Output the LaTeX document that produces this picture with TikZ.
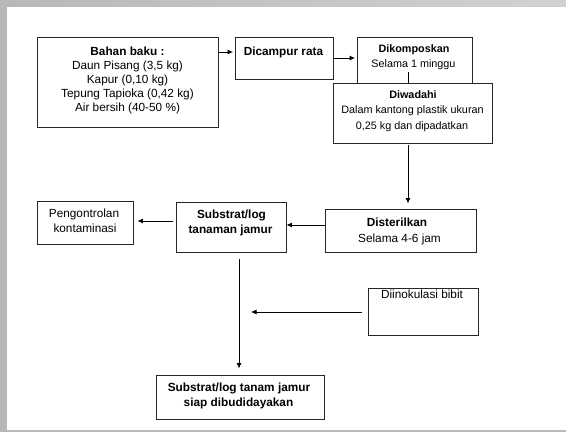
\documentclass[tikz,border=0pt]{standalone}
\usepackage{fontspec}
\setmainfont{Liberation Sans}
\usetikzlibrary{arrows.meta}
\begin{document}
\begin{tikzpicture}[x=1pt,y=-1pt,
 box/.style={draw=black!85, line width=0.9pt, fill=white, inner sep=0pt},
 txt/.style={font=\fontsize{11.8}{14}\selectfont, inner sep=0pt, anchor=base},
 smalltxt/.style={font=\fontsize{10.8}{13}\selectfont, inner sep=0pt, anchor=base},
 arr/.style={draw=black, line width=0.8pt, -{Latex[length=5.5pt,width=5pt]}},
 ln/.style={draw=black, line width=0.8pt}]
\useasboundingbox (0,0) rectangle (566,432);
% frame
\fill[black!28] (0,0) rectangle (566,432);
\shade[left color=black!28, right color=black!18] (0,0) rectangle (566,7);
\fill[white] (7,7) rectangle (566,430);

% boxes
\node[box, minimum width=181pt, minimum height=90pt] (bahan) at (127.5,82) {};
\node[box, minimum width=98pt, minimum height=42pt] (dicampur) at (284,58) {};
\node[box, minimum width=115pt, minimum height=50pt] (dikom) at (414.5,62) {};
\node[box, minimum width=159pt, minimum height=60pt] (diwadahi) at (412.5,113) {};
\node[box, minimum width=151pt, minimum height=43pt] (disterilkan) at (400.5,230.5) {};
\node[box, minimum width=110pt, minimum height=50pt] (substrat) at (231,227) {};
\node[box, minimum width=96pt, minimum height=43pt] (pengontrolan) at (85,222.5) {};
\node[box, minimum width=110pt, minimum height=47pt] (diinokulasi) at (423,311.5) {};
\node[box, minimum width=168pt, minimum height=44pt] (final) at (240,397) {};

% texts
\node[txt] (t1) at (127.5,55.5) {\textbf{Bahan baku :}};
\node[txt] (t2) at (127.5,69.5) {Daun Pisang (3,5 kg)};
\node[txt] (t3) at (127.5,83) {Kapur (0,10 kg)};
\node[txt] (t4) at (127.5,97) {Tepung Tapioka (0,42 kg)};
\node[txt] (t5) at (127.5,111) {Air bersih (40-50 \%)};
\node[txt] (t6) at (283.5,55.5) {\textbf{Dicampur rata}};
\node[smalltxt] (t7) at (414,52.5) {\textbf{Dikomposkan}};
\node[smalltxt] (t8) at (413.5,67) {Selama 1  minggu};
\node[smalltxt] (t9) at (413,98.5) {\textbf{Diwadahi}};
\node[smalltxt] (t10) at (412.5,113) {Dalam kantong plastik ukuran};
\node[smalltxt] (t11) at (412,129.5) {0,25 kg dan dipadatkan};
\node[txt] (t12) at (397,226) {\textbf{Disterilkan}};
\node[txt] (t13) at (399.5,242) {Selama 4-6 jam};
\node[txt] (t14) at (231.5,218.5) {\textbf{Substrat/log}};
\node[txt] (t15) at (230.5,233.5) {\textbf{tanaman jamur}};
\node[txt] (t16) at (84,217) {Pengontrolan};
\node[txt] (t17) at (85,232) {kontaminasi};
\node[txt] (t18) at (422,298.5) {Diinokulasi bibit};
\node[txt] (t19) at (239,391) {\textbf{Substrat/log tanam jamur}};
\node[txt] (t20) at (238.5,406) {\textbf{siap dibudidayakan}};

% connectors
\coordinate (dk) at (408,72);
\coordinate (ino) at (251,312);
\draw[arr] (bahan.east |- 0,52) -- ([xshift=-1.5pt]dicampur.west |- 0,52);
\draw[arr] (dicampur.east |- 0,58) -- ([xshift=-1.5pt]dikom.west |- 0,58);
\draw[ln] (dk) -- (dk |- diwadahi.north);
\draw[arr] (diwadahi.south -| dk) ++(0,2) -- ([yshift=5pt]disterilkan.north -| dk);
\draw[arr] (disterilkan.west |- 0,225) -- (substrat.east |- 0,225);
\draw[arr] ([xshift=-3pt]substrat.west |- 0,221) -- ([xshift=4pt]pengontrolan.east |- 0,221);
\draw[arr] ([yshift=-7pt]substrat.south -| 239,0) -- ([yshift=6pt]final.north -| 239,0);
\draw[arr] ([xshift=-6pt]diinokulasi.west |- ino) -- (ino);
\end{tikzpicture}
\end{document}
